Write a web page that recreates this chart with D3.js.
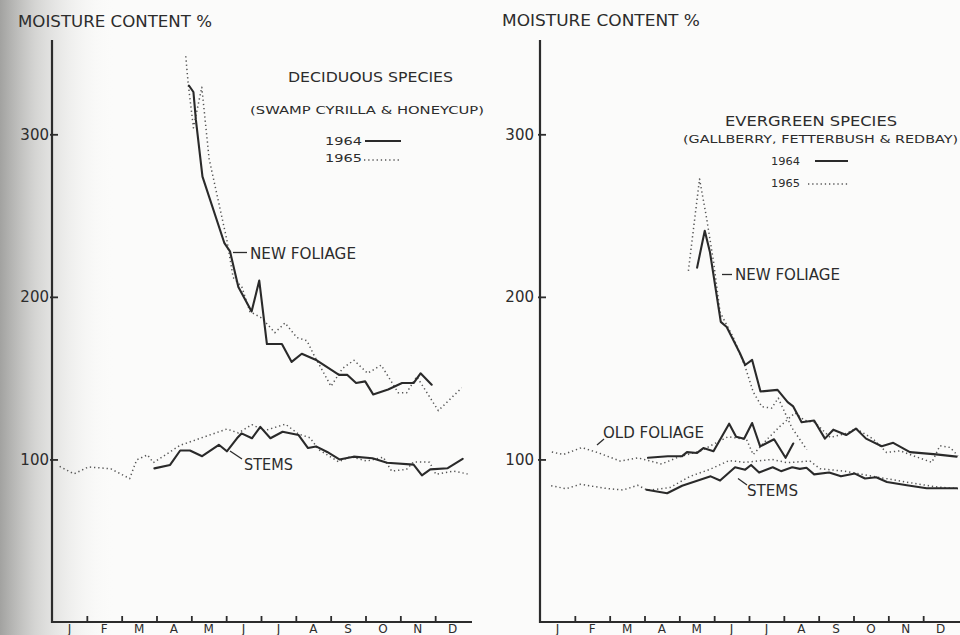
<!DOCTYPE html>
<html>
<head>
<meta charset="utf-8">
<script src="https://cdn.jsdelivr.net/npm/d3@7"></script>
<style>
  html, body { margin: 0; padding: 0; background: #fbfbfa; }
  svg { display: block; }
  text { font-family: "DejaVu Sans", sans-serif; fill: #2c2c2c; }
</style>
</head>
<body>
<svg id="chart" width="960" height="635"></svg>
<script>
// ---------------- data ----------------
// x = position in months (0 = 1 January, 12 = 31 December), y = moisture content %
const months = ["J", "F", "M", "A", "M", "J", "J", "A", "S", "O", "N", "D"];
const yTicks = [100, 200, 300];
const years = ["1964", "1965"];

// Deciduous species (swamp cyrilla & honeycup)
const decNewFoliage1964 = [[3.93,330],[4.06,326],[4.13,309],[4.32,274],[4.95,233],[5.11,228],[5.35,206],[5.73,191],[5.95,210],[6.17,171],[6.60,171],[6.88,160],[7.17,165],[7.60,161],[8.24,152],[8.48,152],[8.73,147],[8.99,148],[9.22,140],[9.65,143],[10.05,147],[10.38,147],[10.58,153],[10.90,146]];
const decNewFoliage1965 = [[3.84,348],[3.91,331],[4.06,304],[4.30,329],[4.51,285],[5.02,235],[5.20,212],[5.45,206],[5.68,191],[6.02,187],[6.40,178],[6.69,184],[7.03,175],[7.32,173],[7.50,165],[8.01,145],[8.34,156],[8.67,161],[9.06,153],[9.45,158],[9.94,141],[10.18,141],[10.47,151],[11.09,130],[11.76,144]];
const decStems1964 = [[2.94,94.5],[3.39,96.6],[3.68,105.5],[3.96,105.5],[4.31,102],[4.79,109],[5.02,105],[5.31,113],[5.44,116],[5.74,113],[5.98,120],[6.27,113],[6.62,117],[7.08,115],[7.35,107],[7.58,108],[7.90,104.6],[8.25,100],[8.66,101.7],[9.20,100.7],[9.62,98],[10.38,96.8],[10.62,90.2],[10.86,93.9],[11.36,94.6],[11.79,100.4]];
const decStems1965 = [[0.22,95.7],[0.63,91.1],[1.05,95.4],[1.69,94.2],[2.23,88.2],[2.43,99.7],[2.74,102.8],[2.91,98],[3.68,108.7],[5.02,118.7],[5.35,116.3],[5.74,121.4],[6.10,117.7],[6.70,121.7],[7.08,115.6],[7.41,113.3],[7.65,106.1],[8.23,98.5],[8.56,101.7],[9.04,99],[9.51,101.4],[9.75,92.8],[10.18,93.9],[10.38,98.5],[10.84,98.3],[11.02,90.8],[11.53,92.8],[11.93,91.1]];

// Evergreen species (gallberry, fetterbush & redbay)
const evNewFoliage1964 = [[4.51,218],[4.73,240.7],[4.88,227.4],[5.19,184.6],[5.36,181.5],[5.74,165.3],[5.89,158.1],[6.09,161.2],[6.33,141.8],[6.82,142.8],[7.11,135.2],[7.27,132.6],[7.51,122.9],[7.87,123.9],[8.18,112.8],[8.42,118.3],[8.79,115],[9.07,119],[9.36,112.8],[9.81,108.1],[10.14,110.2],[10.62,104.5],[11.37,103.1],[11.96,101.7]];
const evNewFoliage1965 = [[4.26,216],[4.58,272.5],[4.77,250],[4.98,222],[5.17,190.5],[5.55,175],[5.89,157],[6.12,141.6],[6.37,132.4],[6.65,131.6],[6.84,137.7],[7.23,119.5],[7.66,106]];
const evOldFoliage1964 = [[3.10,101],[3.67,102],[4.08,102],[4.22,104.5],[4.51,104],[4.69,107],[4.98,105],[5.43,122],[5.63,114],[5.86,112.7],[6.09,122.4],[6.32,108],[6.72,112.4],[7.05,101],[7.27,109.8]];
const evOldFoliage1965 = [[0.34,104.6],[0.67,103],[1.20,107.3],[1.67,104.1],[2.30,99],[2.81,101],[3.49,97.2],[4.02,101.8],[4.59,105],[5.40,114],[5.93,112.2],[6.12,103],[6.51,112.2],[6.89,120.4],[7.32,128.6],[7.60,124],[7.90,122.6],[8.33,113.5],[8.79,116],[9.07,119],[9.57,112.5],[9.95,104.3],[10.34,105.3],[10.72,102.2],[11.25,98.2],[11.48,108.4],[11.77,107.4],[12.0,102.2]];
const evStems1964 = [[3.06,81.3],[3.65,79.2],[4.08,83.8],[4.90,89.6],[5.17,87],[5.60,95.2],[5.89,93.7],[6.06,96.6],[6.29,91.9],[6.68,95.2],[6.92,92.8],[7.24,95.2],[7.46,94.2],[7.65,94.9],[7.87,90.8],[8.30,92],[8.64,89.6],[9.04,91.3],[9.33,88.3],[9.65,89],[9.96,86.1],[10.53,84.1],[11.10,82.3],[11.97,82.3]];
const evStems1965 = [[0.32,83.8],[0.75,82],[1.16,84.7],[1.92,82.1],[2.39,81.2],[2.80,84.1],[3.10,81],[3.73,82.7],[4.31,89.6],[4.88,93.9],[5.43,99.3],[5.89,98.2],[6.66,100],[7.09,98],[7.75,99],[8.04,94.3],[8.76,92.7],[9.47,89.9],[10.05,87.8],[10.62,85.7],[11.34,83.2],[12.0,82]];

// ---------------- drawing ----------------
const svg = d3.select("#chart");
const INK = "#2c2c2c";

// paper shading (scan)
const defs = svg.append("defs");
const grad = defs.append("linearGradient").attr("id", "shade").attr("x1", 0).attr("x2", 1).attr("y1", 0).attr("y2", 0);
grad.append("stop").attr("offset", "0").attr("stop-color", "#a2a2a0").attr("stop-opacity", 1);
grad.append("stop").attr("offset", "0.3").attr("stop-color", "#cacac8").attr("stop-opacity", 0.8);
grad.append("stop").attr("offset", "1").attr("stop-color", "#fbfbfa").attr("stop-opacity", 0);
svg.append("rect").attr("width", 960).attr("height", 635).attr("fill", "#fbfbfa");
svg.append("rect").attr("x", 0).attr("y", 0).attr("width", 115).attr("height", 635).attr("fill", "url(#shade)");

const y = d3.scaleLinear().domain([0, 358]).range([622, 40]);

const styles = {
  "1964": { width: 2.1, dash: null, color: "#2a2a2a" },
  "1965": { width: 1.5, dash: "1.3 2.9", color: "#555" }
};

function panel(x0, x1, series, labelPad) {
  const x = d3.scaleLinear().domain([0, 12]).range([x0, x1]);
  const g = svg.append("g");

  // axes lines
  g.append("path")
    .attr("d", d3.line()([[x(0), y(358)], [x(0), y(0)], [x(12) + 2, y(0)]]))
    .attr("fill", "none").attr("stroke", INK).attr("stroke-width", 2.2);

  // y axis ticks & labels
  const yAxis = d3.axisLeft(y).tickValues(yTicks).tickSize(-6).tickPadding(labelPad).tickSizeOuter(0);
  const ya = g.append("g").attr("transform", `translate(${x(0)},0)`).call(yAxis);
  ya.select(".domain").remove();
  ya.selectAll(".tick line").attr("stroke", INK).attr("stroke-width", 1.8).attr("x1", -2);
  ya.selectAll(".tick text").attr("font-size", 15).attr("fill", INK)
    .style("font-family", "'DejaVu Sans', sans-serif");

  // x axis month ticks
  const xAxis = d3.axisBottom(x).tickValues(d3.range(1, 12)).tickSize(-6).tickFormat("").tickSizeOuter(0);
  const xa = g.append("g").attr("transform", `translate(0,${y(0)})`).call(xAxis);
  xa.select(".domain").remove();
  xa.selectAll(".tick line").attr("stroke", INK).attr("stroke-width", 1.8);

  // month labels
  g.selectAll("text.month").data(months).join("text")
    .attr("class", "month")
    .attr("x", (d, i) => x(i + 0.5))
    .attr("y", 633)
    .attr("text-anchor", "middle")
    .attr("font-size", 12)
    .text(d => d);

  // series lines
  const line = d3.line().x(d => x(d[0])).y(d => y(d[1]));
  series.forEach(s => {
    const st = styles[s.year];
    g.append("path")
      .attr("d", line(s.values))
      .attr("fill", "none")
      .attr("stroke", st.color)
      .attr("stroke-width", st.width)
      .attr("stroke-dasharray", st.dash)
      .attr("stroke-linejoin", "round")
      .attr("stroke-linecap", st.dash ? "butt" : "round");
  });
  return { g, x };
}

function label(txt, x, yb, size, len, anchor) {
  const t = svg.append("text").attr("x", x).attr("y", yb).attr("font-size", size)
    .attr("text-anchor", anchor || "start").text(txt);
  if (len) t.attr("textLength", len).attr("lengthAdjust", "spacingAndGlyphs");
  return t;
}
function leader(p) {
  svg.append("path").attr("d", d3.line()(p)).attr("fill", "none")
    .attr("stroke", INK).attr("stroke-width", 1.3);
}
function legendLine(year, xa, xb, yy) {
  const st = styles[year];
  svg.append("line").attr("x1", xa).attr("x2", xb).attr("y1", yy).attr("y2", yy)
    .attr("stroke", st.color).attr("stroke-width", year === "1964" ? 2 : 1.4)
    .attr("stroke-dasharray", st.dash);
}

// ---- left panel ----
panel(52, 470, [
  { year: "1965", values: decNewFoliage1965 },
  { year: "1964", values: decNewFoliage1964 },
  { year: "1965", values: decStems1965 },
  { year: "1964", values: decStems1964 }
], 3);

label("MOISTURE CONTENT %", 18, 27, 15, 194);
label("DECIDUOUS SPECIES", 288, 82, 14, 165);
label("(SWAMP CYRILLA & HONEYCUP)", 250, 114, 10.5, 234);
label(years[0], 325, 145, 11, 37);
legendLine("1964", 365, 401, 141);
label(years[1], 325, 162, 11, 37);
legendLine("1965", 364, 401, 160);

leader([[233, 252.5], [247, 252.5]]);
label("NEW FOLIAGE", 250, 258.5, 15, 106);
leader([[230, 451], [242, 459]]);
label("STEMS", 244, 470, 15, 49);

// ---- right panel ----
panel(540, 958, [
  { year: "1965", values: evNewFoliage1965 },
  { year: "1965", values: evOldFoliage1965 },
  { year: "1965", values: evStems1965 },
  { year: "1964", values: evNewFoliage1964 },
  { year: "1964", values: evOldFoliage1964 },
  { year: "1964", values: evStems1964 }
], 6);

label("MOISTURE CONTENT %", 502, 26, 15, 198);
label("EVERGREEN SPECIES", 725, 126, 14, 172);
label("(GALLBERRY, FETTERBUSH & REDBAY)", 683, 143, 10.5, 275);
label(years[0], 771, 165, 10, 29);
legendLine("1964", 815, 848, 161);
label(years[1], 771, 187, 10, 29);
legendLine("1965", 808, 848, 184);

leader([[722, 274.5], [732, 274.5]]);
label("NEW FOLIAGE", 735, 280, 15, 105);
leader([[597, 445], [604, 439]]);
label("OLD FOLIAGE", 603, 437.5, 15, 101);
leader([[738, 478.5], [747, 485]]);
label("STEMS", 747, 496, 15, 51);
</script>
</body>
</html>
